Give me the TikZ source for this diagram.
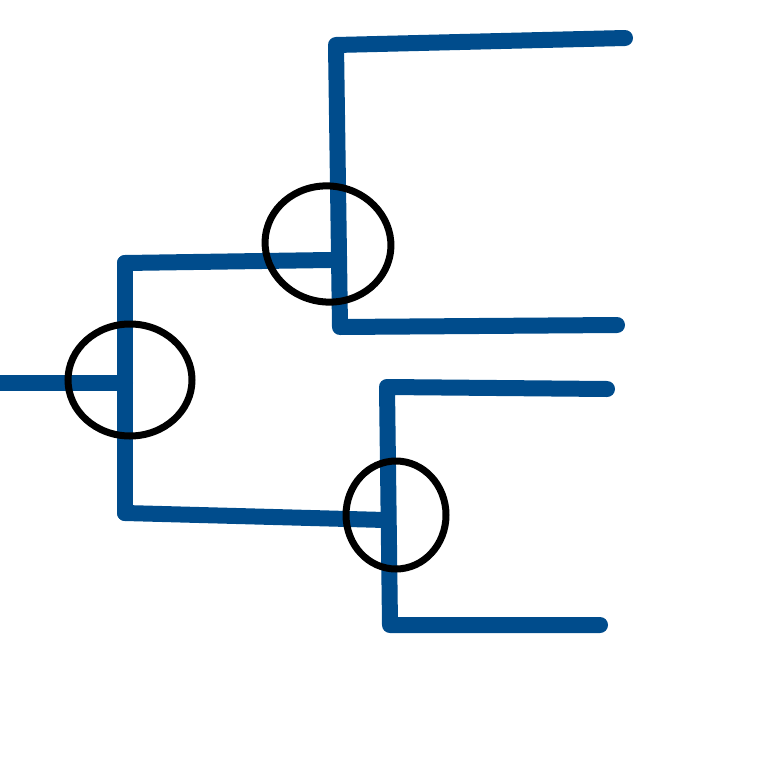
\documentclass[tikz,border=0pt]{standalone}
\usetikzlibrary{shapes.geometric}
\definecolor{treeblue}{RGB}{0,76,140}
\begin{document}
\begin{tikzpicture}[x=1pt,y=-1pt,
  branch/.style={draw=treeblue,line width=16pt,line cap=round,line join=round},
  ring/.style={draw=black,line width=7pt}]
\useasboundingbox (0,0) rectangle (768,768);
\coordinate (r0) at (-10,383);
\coordinate (r1) at (125,383);
\coordinate (a1) at (125,263);
\coordinate (a2) at (125,513);
\coordinate (b1) at (330,260);
\coordinate (b2) at (385,520);
\coordinate (u1) at (336,45);
\coordinate (u2) at (340,327);
\coordinate (u1e) at (625,38);
\coordinate (u2e) at (617,325);
\coordinate (l1) at (387,387);
\coordinate (l2) at (390,625);
\coordinate (l1e) at (607,389);
\coordinate (l2e) at (600,625);
\draw[branch] (r0) -- (r1);
\draw[branch] (a1) -- (a2);
\draw[branch] (a1) -- (b1);
\draw[branch] (a2) -- (b2);
\draw[branch] (u1e) -- (u1) -- (u2) -- (u2e);
\draw[branch] (l1e) -- (l1) -- (l2) -- (l2e);
\draw[ring] (130,380) ellipse [x radius=62, y radius=56];
\draw[ring,rotate around={-8:(328,244)}] (328,244) ellipse [x radius=63, y radius=58];
\draw[ring] (396,515) ellipse [x radius=50, y radius=54];
\end{tikzpicture}
\end{document}
